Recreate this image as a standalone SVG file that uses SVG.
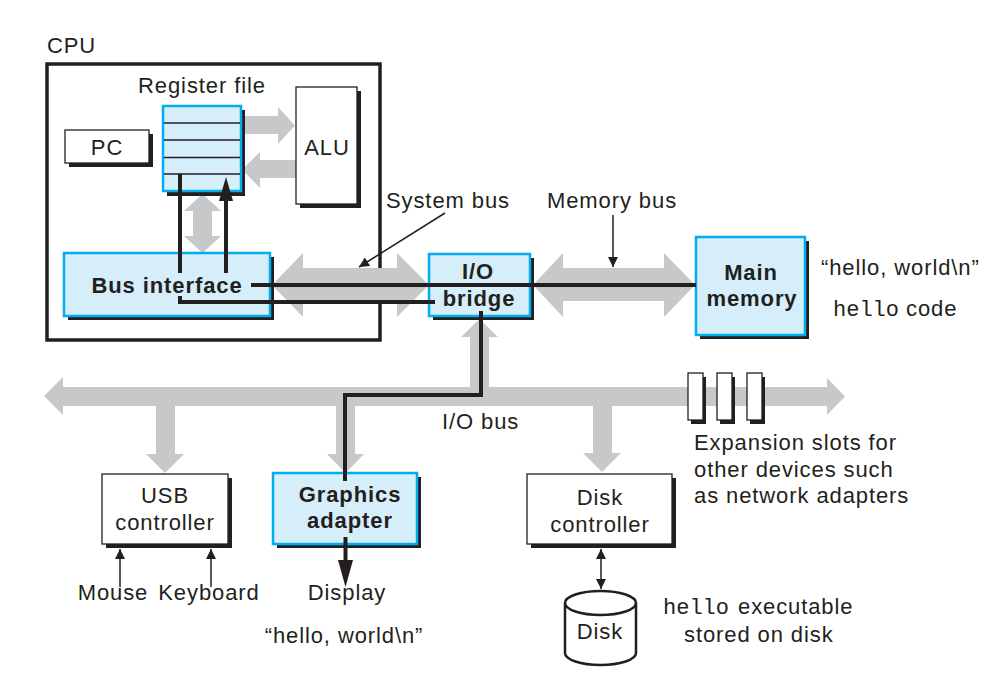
<svg xmlns="http://www.w3.org/2000/svg" width="1006" height="690" viewBox="0 0 1006 690">
<defs>
<marker id="ah" viewBox="0 0 10 10" refX="10" refY="5" markerWidth="11" markerHeight="10" markerUnits="userSpaceOnUse" orient="auto-start-reverse">
<path d="M0,0 L10,5 L0,10 z" fill="#231f20"/>
</marker>
</defs>
<style>
text{font-family:"Liberation Sans",Arial,Helvetica,sans-serif;font-size:22px;letter-spacing:0.9px;fill:#231f20}
.b{font-weight:bold}
.m{font-family:"Liberation Mono","Courier New",monospace;letter-spacing:0}
.c{text-anchor:middle}
.bus{fill:#c7c8ca}
.sh{fill:#231f20}
.wb{fill:#ffffff;stroke:#231f20;stroke-width:1.3}
.lb{fill:#d5eefa;stroke:#00adee;stroke-width:2.5}
.wire{fill:none;stroke:#231f20;stroke-width:4}
.thin{fill:none;stroke:#231f20;stroke-width:1.5}
</style>
<rect width="1006" height="690" fill="#ffffff"/>

<g id="cpu">
<rect x="47" y="64" width="333" height="276" fill="none" stroke="#231f20" stroke-width="3.5"/>
<text x="47" y="53">CPU</text>
</g>

<g id="connectors">
<!-- gray buses -->
<polygon class="bus" points="242,116 278,116 278,107 295,125.5 278,144 278,134 242,134"/>
<polygon class="bus" points="296,160 260,160 260,152 242,169.5 260,188 260,178 296,178"/>
<polygon class="bus" points="202.5,194 221,211 212,211 212,236 221,236 202.5,253 184,236 193,236 193,211 184,211"/>
<polygon class="bus" points="272,285 303,253 303,268 397,268 397,253 429,285 397,317 397,301 303,301 303,317"/>
<polygon class="bus" points="533,285 563,253 563,268 664,268 664,253 695,285 664,317 664,301 563,301 563,317"/>
<polygon class="bus" points="44,396 63,377 63,387 827,387 827,378 845,396.5 827,415 827,406 63,406 63,415"/>
<polygon class="bus" points="479.5,319 498,337 489,337 489,390 470,390 470,337 461,337"/>
<polygon class="bus" points="156,400 175,400 175,454 184,454 165,473 146,454 156,454"/>
<polygon class="bus" points="336,400 355,400 355,454 364,454 345.5,473 327,454 336,454"/>
<polygon class="bus" points="593,400 612,400 612,453 621,453 602,472 583,453 593,453"/>
</g>

<g id="pc">
<rect class="sh" x="69" y="134" width="84" height="33"/>
<rect class="wb" x="65" y="130" width="84" height="33"/>
<text class="c" x="107" y="155">PC</text>
</g>

<g id="regfile">
<rect class="sh" x="167" y="110" width="78" height="86"/>
<rect class="lb" x="163" y="106" width="78" height="85"/>
<path d="M164,123 H240 M164,140 H240 M164,157.5 H240 M164,174 H240" stroke="#231f20" stroke-width="1.5" fill="none"/>
<text class="c" x="202" y="93">Register file</text>
</g>

<g id="alu">
<rect class="sh" x="300" y="91" width="61" height="117"/>
<rect class="wb" x="296" y="87" width="61" height="117"/>
<text class="c" x="327" y="155">ALU</text>
</g>

<g id="businterface">
<rect class="sh" x="68" y="257" width="206" height="63"/>
<rect class="lb" x="64" y="253" width="206" height="63"/>
<text class="c b" x="167" y="293">Bus interface</text>
</g>

<g id="iobridge">
<rect class="sh" x="433" y="258" width="101" height="62"/>
<rect class="lb" x="429" y="254" width="101" height="62"/>
<text class="c b" x="478" y="279">I/O</text>
<text class="c b" x="479" y="306">bridge</text>
</g>

<g id="mainmemory">
<rect class="sh" x="700" y="241" width="109" height="98"/>
<rect class="lb" x="696" y="237" width="109" height="98"/>
<text class="c b" x="751" y="280">Main</text>
<text class="c b" x="752" y="306">memory</text>
</g>

<g id="slots">
<rect class="sh" x="691" y="377" width="15" height="47"/>
<rect class="wb" x="688" y="373" width="15" height="47"/>
<rect class="sh" x="720" y="377" width="15" height="47"/>
<rect class="wb" x="717" y="373" width="15" height="47"/>
<rect class="sh" x="750" y="377" width="15" height="47"/>
<rect class="wb" x="747" y="373" width="15" height="47"/>
<text x="694" y="450">Expansion slots for</text>
<text x="694" y="477">other devices such</text>
<text x="694" y="503">as network adapters</text>
</g>

<g id="usb">
<rect class="sh" x="106" y="478" width="126" height="70"/>
<rect class="wb" x="102" y="474" width="126" height="70"/>
<text class="c" x="165" y="503">USB</text>
<text class="c" x="165" y="530">controller</text>
</g>

<g id="graphics">
<rect class="sh" x="277" y="477" width="144" height="71"/>
<rect class="lb" x="273" y="473" width="144" height="71"/>
<text class="c b" x="350" y="502">Graphics</text>
<text class="c b" x="350" y="528">adapter</text>
</g>

<g id="diskctrl">
<rect class="sh" x="531" y="478" width="145" height="70"/>
<rect class="wb" x="527" y="474" width="145" height="70"/>
<text class="c" x="600" y="505">Disk</text>
<text class="c" x="600" y="532">controller</text>
</g>

<g id="disk">
<path d="M565,603 A35.5,12 0 0 1 636,603 V653 A35.5,12 0 0 1 565,653 Z" fill="#ffffff" stroke="#231f20" stroke-width="2.5"/>
<path d="M565,603 A35.5,12 0 0 0 636,603" fill="none" stroke="#231f20" stroke-width="2.5"/>
<text class="c" x="600" y="639">Disk</text>
</g>

<g id="wires">
<path class="wire" d="M180,174 V273"/>
<path class="wire" d="M180,296 V302 H435"/>
<path class="wire" d="M226,273 V199"/>
<polygon points="226,177 219,201 233,201" fill="#231f20"/>
<path class="wire" d="M251,285 H696"/>
<path class="wire" d="M481,311 V395 H345 V481"/>
<path class="wire" d="M345.5,537 V562"/>
<polygon points="338,560 353,560 345.5,587" fill="#231f20"/>
<path class="thin" d="M445,213 L359,267" marker-end="url(#ah)"/>
<path class="thin" d="M613,215 V267" marker-end="url(#ah)"/>
<path class="thin" d="M120,587 V549" marker-end="url(#ah)"/>
<path class="thin" d="M211,587 V549" marker-end="url(#ah)"/>
<path class="thin" d="M601,549 V589" marker-start="url(#ah)" marker-end="url(#ah)"/>
</g>

<g id="labels">
<text x="386" y="208">System bus</text>
<text x="547" y="208">Memory bus</text>
<text x="821" y="275">“hello, world\n”</text>
<text x="833" y="316"><tspan class="m">hello</tspan><tspan x="906">code</tspan></text>
<text x="442" y="429">I/O bus</text>
<text class="c" x="113" y="600">Mouse</text>
<text class="c" x="209" y="600">Keyboard</text>
<text class="c" x="347" y="600">Display</text>
<text class="c" x="344" y="643">“hello, world\n”</text>
<text x="663" y="614"><tspan class="m">hello</tspan><tspan x="738">executable</tspan></text>
<text x="684" y="642">stored on disk</text>
</g>
</svg>
